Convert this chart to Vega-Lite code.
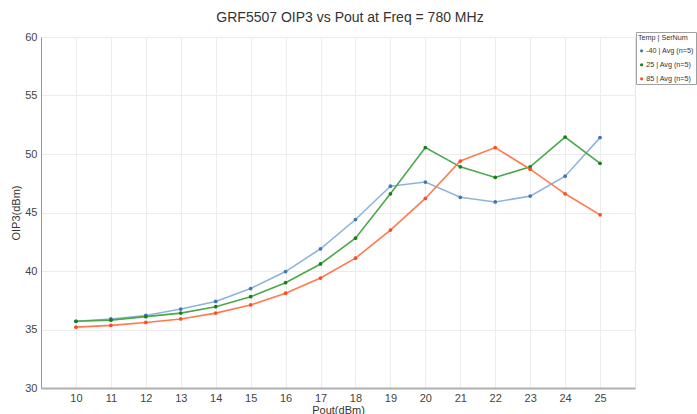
{
  "$schema": "https://vega.github.io/schema/vega-lite/v6.json",
  "autosize": "none",
  "width": 594,
  "height": 351,
  "padding": {"left": 41, "top": 37, "right": 62, "bottom": 26},
  "background": "white",
  "title": {
    "text": "GRF5507 OIP3 vs Pout at Freq = 780 MHz",
    "font": "Liberation Sans",
    "fontSize": 14,
    "fontWeight": "normal",
    "color": "#333333",
    "anchor": "middle",
    "dx": 12,
    "offset": 6
  },
  "config": {
    "view": {"stroke": "#e6e6e6"},
    "font": "Liberation Sans",
    "axis": {
      "labelFont": "Liberation Sans",
      "titleFont": "Liberation Sans",
      "labelColor": "#444444",
      "titleColor": "#333333",
      "labelFontSize": 11,
      "titleFontSize": 11,
      "titleFontWeight": "normal",
      "gridColor": "#ececec",
      "ticks": false
    }
  },
  "data": {
    "values": [
      {"pout": 10, "series": "-40 | Avg (n=5)", "oip3": 35.7},
      {"pout": 11, "series": "-40 | Avg (n=5)", "oip3": 35.9},
      {"pout": 12, "series": "-40 | Avg (n=5)", "oip3": 36.2},
      {"pout": 13, "series": "-40 | Avg (n=5)", "oip3": 36.75},
      {"pout": 14, "series": "-40 | Avg (n=5)", "oip3": 37.4},
      {"pout": 15, "series": "-40 | Avg (n=5)", "oip3": 38.5},
      {"pout": 16, "series": "-40 | Avg (n=5)", "oip3": 39.95},
      {"pout": 17, "series": "-40 | Avg (n=5)", "oip3": 41.9},
      {"pout": 18, "series": "-40 | Avg (n=5)", "oip3": 44.4},
      {"pout": 19, "series": "-40 | Avg (n=5)", "oip3": 47.25},
      {"pout": 20, "series": "-40 | Avg (n=5)", "oip3": 47.6},
      {"pout": 21, "series": "-40 | Avg (n=5)", "oip3": 46.3},
      {"pout": 22, "series": "-40 | Avg (n=5)", "oip3": 45.9},
      {"pout": 23, "series": "-40 | Avg (n=5)", "oip3": 46.4},
      {"pout": 24, "series": "-40 | Avg (n=5)", "oip3": 48.1},
      {"pout": 25, "series": "-40 | Avg (n=5)", "oip3": 51.4},
      {"pout": 10, "series": "25 | Avg (n=5)", "oip3": 35.7},
      {"pout": 11, "series": "25 | Avg (n=5)", "oip3": 35.8},
      {"pout": 12, "series": "25 | Avg (n=5)", "oip3": 36.1},
      {"pout": 13, "series": "25 | Avg (n=5)", "oip3": 36.4},
      {"pout": 14, "series": "25 | Avg (n=5)", "oip3": 36.95},
      {"pout": 15, "series": "25 | Avg (n=5)", "oip3": 37.8},
      {"pout": 16, "series": "25 | Avg (n=5)", "oip3": 39.0},
      {"pout": 17, "series": "25 | Avg (n=5)", "oip3": 40.6},
      {"pout": 18, "series": "25 | Avg (n=5)", "oip3": 42.8},
      {"pout": 19, "series": "25 | Avg (n=5)", "oip3": 46.6},
      {"pout": 20, "series": "25 | Avg (n=5)", "oip3": 50.55},
      {"pout": 21, "series": "25 | Avg (n=5)", "oip3": 48.9},
      {"pout": 22, "series": "25 | Avg (n=5)", "oip3": 48.0},
      {"pout": 23, "series": "25 | Avg (n=5)", "oip3": 48.9},
      {"pout": 24, "series": "25 | Avg (n=5)", "oip3": 51.45},
      {"pout": 25, "series": "25 | Avg (n=5)", "oip3": 49.2},
      {"pout": 10, "series": "85 | Avg (n=5)", "oip3": 35.2},
      {"pout": 11, "series": "85 | Avg (n=5)", "oip3": 35.35},
      {"pout": 12, "series": "85 | Avg (n=5)", "oip3": 35.6},
      {"pout": 13, "series": "85 | Avg (n=5)", "oip3": 35.9},
      {"pout": 14, "series": "85 | Avg (n=5)", "oip3": 36.4},
      {"pout": 15, "series": "85 | Avg (n=5)", "oip3": 37.1},
      {"pout": 16, "series": "85 | Avg (n=5)", "oip3": 38.1},
      {"pout": 17, "series": "85 | Avg (n=5)", "oip3": 39.4},
      {"pout": 18, "series": "85 | Avg (n=5)", "oip3": 41.1},
      {"pout": 19, "series": "85 | Avg (n=5)", "oip3": 43.5},
      {"pout": 20, "series": "85 | Avg (n=5)", "oip3": 46.2},
      {"pout": 21, "series": "85 | Avg (n=5)", "oip3": 49.4},
      {"pout": 22, "series": "85 | Avg (n=5)", "oip3": 50.55},
      {"pout": 23, "series": "85 | Avg (n=5)", "oip3": 48.7},
      {"pout": 24, "series": "85 | Avg (n=5)", "oip3": 46.6},
      {"pout": 25, "series": "85 | Avg (n=5)", "oip3": 44.8}
    ]
  },
  "encoding": {
    "x": {
      "field": "pout",
      "type": "quantitative",
      "title": "Pout(dBm)",
      "scale": {"domain": [9, 26], "nice": false, "zero": false},
      "axis": {
        "values": [10, 11, 12, 13, 14, 15, 16, 17, 18, 19, 20, 21, 22, 23, 24, 25],
        "domainColor": "#b0b0b0",
        "domainWidth": 2,
        "labelPadding": 4,
        "titlePadding": 1
      }
    },
    "y": {
      "field": "oip3",
      "type": "quantitative",
      "title": "OIP3(dBm)",
      "scale": {"domain": [30, 60], "nice": false, "zero": false},
      "axis": {
        "values": [30, 35, 40, 45, 50, 55, 60],
        "domainColor": "#999999",
        "labelPadding": 4,
        "titlePadding": 3
      }
    }
  },
  "layer": [
    {
      "mark": {"type": "line", "strokeWidth": 1.6},
      "encoding": {
        "color": {
          "field": "series",
          "type": "nominal",
          "scale": {"range": ["#8fb4dc", "#4aa84a", "#ff7a4d"]},
          "legend": null
        }
      }
    },
    {
      "mark": {"type": "point", "filled": true, "size": 14, "opacity": 1},
      "encoding": {
        "color": {
          "field": "series",
          "type": "nominal",
          "scale": {"range": ["#3d78b5", "#16801a", "#ff4d1f"]},
          "legend": {
            "title": "Temp | SerNum",
            "orient": "none",
            "legendX": 595,
            "legendY": -5,
            "fillColor": "white",
            "strokeColor": "#a0a0a0",
            "padding": 2,
            "titleFont": "Liberation Sans",
            "labelFont": "Liberation Sans",
            "titleFontSize": 7.2,
            "titleFontWeight": "normal",
            "titleColor": "#333333",
            "titlePadding": 6,
            "labelFontSize": 7.2,
            "labelColor": "#333333",
            "labelLimit": 90,
            "symbolType": "circle",
            "symbolSize": 10,
            "rowPadding": 6,
            "labelOffset": 1
          }
        }
      }
    }
  ],
  "resolve": {"scale": {"color": "independent"}}
}
